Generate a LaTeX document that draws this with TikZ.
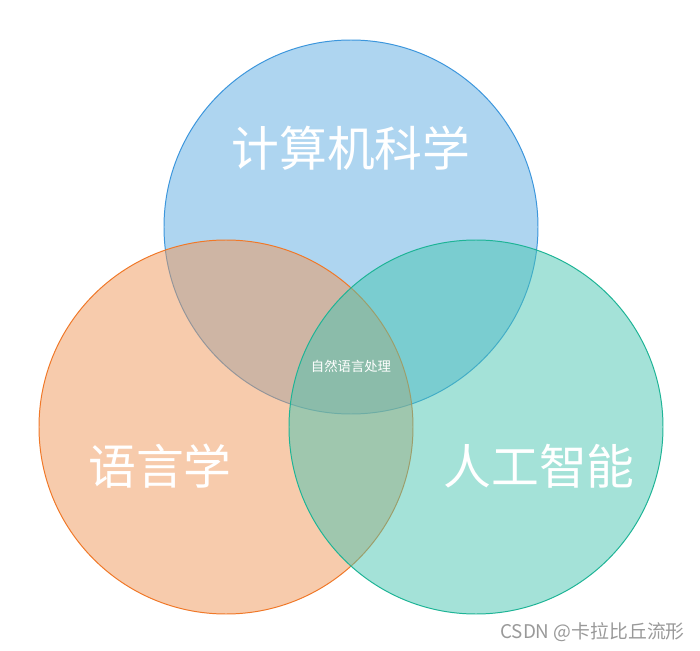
\documentclass[tikz,border=0pt]{standalone}
\usepackage{fontspec}
\newfontfamily\cjk{Noto Sans CJK SC}
\definecolor{cblue}{RGB}{93,171,225}
\definecolor{corange}{RGB}{239,151,89}
\definecolor{cteal}{RGB}{73,197,177}
\definecolor{eblue}{RGB}{60,150,220}
\definecolor{eorange}{RGB}{240,120,40}
\definecolor{eteal}{RGB}{30,180,150}
\begin{document}
\begin{tikzpicture}[x=0.025cm, y=-0.025cm, line join=round, line cap=round,
    setc/.style={fill opacity=0.5, line width=0.7pt},
    biglabel/.style={text=white, font=\cjk\fontsize{34}{36}\selectfont, inner sep=0pt}]
        \def\r{187}
\useasboundingbox (0,0) rectangle (700,651);
\coordinate (CS) at (351,227);
\coordinate (LI) at (226,427);
\coordinate (AI) at (476,427);
        \draw[setc, fill=cblue, draw=eblue] (CS) circle (\r);
        \draw[setc, fill=corange, draw=eorange] (LI) circle (\r);
        \draw[setc, fill=cteal, draw=eteal] (AI) circle (\r);
\node[biglabel] (cslabel) at (351,148) {计算机科学};
\node[biglabel] (lilabel) at (160,466) {语言学};
\node[biglabel] (ailabel) at (539,466) {人工智能};
\node[text=white, font=\cjk\fontsize{9.5}{11}\selectfont, inner sep=0pt] (nlp) at (351,366) {自然语言处理};
\node[text=black!40, font=\cjk\fontsize{13.4}{15}\selectfont, inner sep=0pt, anchor=east] (mark) at (685,632) {CSDN @卡拉比丘流形};
    \end{tikzpicture}
\end{document}
